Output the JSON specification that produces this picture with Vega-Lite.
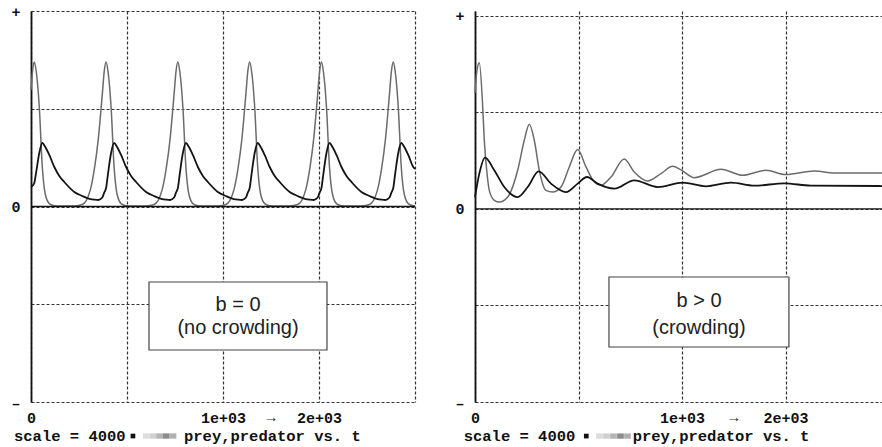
{
  "$schema": "https://vega.github.io/schema/vega-lite/v6.json",
  "padding": {"left": 10, "top": 4, "right": 0, "bottom": 0},
  "background": "white",
  "spacing": 35,
  "datasets": {
    "L": [
      {"t": 0, "prey": 2380, "pred": 400},
      {"t": 9, "prey": 2800, "pred": 430},
      {"t": 17.2, "prey": 2957, "pred": 480},
      {"t": 27.6, "prey": 2752, "pred": 720},
      {"t": 43.2, "prey": 2036, "pred": 1095},
      {"t": 58.9, "prey": 808, "pred": 1299},
      {"t": 74.5, "prey": 250, "pred": 1217},
      {"t": 95.3, "prey": 60, "pred": 1054},
      {"t": 121.4, "prey": 15, "pred": 808},
      {"t": 147.4, "prey": 8, "pred": 624},
      {"t": 173.4, "prey": 8, "pred": 501},
      {"t": 225.5, "prey": 12, "pred": 297},
      {"t": 267.2, "prey": 40, "pred": 215},
      {"t": 308.9, "prey": 340, "pred": 153},
      {"t": 329.7, "prey": 760, "pred": 140},
      {"t": 350.5, "prey": 1380, "pred": 133},
      {"t": 371.4, "prey": 2300, "pred": 184},
      {"t": 381.8, "prey": 2780, "pred": 290},
      {"t": 391.1, "prey": 2957, "pred": 378},
      {"t": 401.5, "prey": 2752, "pred": 685},
      {"t": 417.1, "prey": 2036, "pred": 1095},
      {"t": 432.8, "prey": 808, "pred": 1299},
      {"t": 448.4, "prey": 250, "pred": 1217},
      {"t": 469.2, "prey": 60, "pred": 1054},
      {"t": 495.3, "prey": 15, "pred": 808},
      {"t": 521.3, "prey": 8, "pred": 624},
      {"t": 547.3, "prey": 8, "pred": 501},
      {"t": 599.4, "prey": 12, "pred": 297},
      {"t": 641.1, "prey": 40, "pred": 215},
      {"t": 682.8, "prey": 340, "pred": 153},
      {"t": 703.6, "prey": 760, "pred": 140},
      {"t": 724.4, "prey": 1380, "pred": 133},
      {"t": 745.3, "prey": 2300, "pred": 184},
      {"t": 755.7, "prey": 2780, "pred": 290},
      {"t": 765.0, "prey": 2957, "pred": 378},
      {"t": 775.4, "prey": 2752, "pred": 685},
      {"t": 791.0, "prey": 2036, "pred": 1095},
      {"t": 806.7, "prey": 808, "pred": 1299},
      {"t": 822.3, "prey": 250, "pred": 1217},
      {"t": 843.1, "prey": 60, "pred": 1054},
      {"t": 869.2, "prey": 15, "pred": 808},
      {"t": 895.2, "prey": 8, "pred": 624},
      {"t": 921.2, "prey": 8, "pred": 501},
      {"t": 973.3, "prey": 12, "pred": 297},
      {"t": 1015.0, "prey": 40, "pred": 215},
      {"t": 1056.7, "prey": 340, "pred": 153},
      {"t": 1077.5, "prey": 760, "pred": 140},
      {"t": 1098.3, "prey": 1380, "pred": 133},
      {"t": 1119.2, "prey": 2300, "pred": 184},
      {"t": 1129.6, "prey": 2780, "pred": 290},
      {"t": 1139.0, "prey": 2957, "pred": 378},
      {"t": 1149.4, "prey": 2752, "pred": 685},
      {"t": 1165.0, "prey": 2036, "pred": 1095},
      {"t": 1180.7, "prey": 808, "pred": 1299},
      {"t": 1196.3, "prey": 250, "pred": 1217},
      {"t": 1217.1, "prey": 60, "pred": 1054},
      {"t": 1243.2, "prey": 15, "pred": 808},
      {"t": 1269.2, "prey": 8, "pred": 624},
      {"t": 1295.2, "prey": 8, "pred": 501},
      {"t": 1347.3, "prey": 12, "pred": 297},
      {"t": 1389.0, "prey": 40, "pred": 215},
      {"t": 1430.7, "prey": 340, "pred": 153},
      {"t": 1451.5, "prey": 760, "pred": 140},
      {"t": 1472.3, "prey": 1380, "pred": 133},
      {"t": 1493.2, "prey": 2300, "pred": 184},
      {"t": 1503.6, "prey": 2780, "pred": 290},
      {"t": 1512.9, "prey": 2957, "pred": 378},
      {"t": 1523.3, "prey": 2752, "pred": 685},
      {"t": 1538.9, "prey": 2036, "pred": 1095},
      {"t": 1554.6, "prey": 808, "pred": 1299},
      {"t": 1570.2, "prey": 250, "pred": 1217},
      {"t": 1591.0, "prey": 60, "pred": 1054},
      {"t": 1617.1, "prey": 15, "pred": 808},
      {"t": 1643.1, "prey": 8, "pred": 624},
      {"t": 1669.1, "prey": 8, "pred": 501},
      {"t": 1721.2, "prey": 12, "pred": 297},
      {"t": 1762.9, "prey": 40, "pred": 215},
      {"t": 1804.6, "prey": 340, "pred": 153},
      {"t": 1825.4, "prey": 760, "pred": 140},
      {"t": 1846.2, "prey": 1380, "pred": 133},
      {"t": 1867.1, "prey": 2300, "pred": 184},
      {"t": 1877.5, "prey": 2780, "pred": 290},
      {"t": 1886.8, "prey": 2957, "pred": 378},
      {"t": 1897.2, "prey": 2752, "pred": 685},
      {"t": 1912.8, "prey": 2036, "pred": 1095},
      {"t": 1928.5, "prey": 808, "pred": 1299},
      {"t": 1944.1, "prey": 250, "pred": 1217},
      {"t": 1964.9, "prey": 60, "pred": 1054},
      {"t": 1991.0, "prey": 15, "pred": 808},
      {"t": 2000, "prey": 12, "pred": 770}
    ],
    "RPrey": [
      {"t": 0, "v": 2400}, {"t": 9.7, "v": 2880}, {"t": 20.8, "v": 3030}, {"t": 37.2, "v": 2115},
      {"t": 44.9, "v": 1423}, {"t": 58, "v": 738}, {"t": 69.1, "v": 384}, {"t": 93.2, "v": 177},
      {"t": 117.4, "v": 141}, {"t": 157.9, "v": 245}, {"t": 206.2, "v": 800}, {"t": 238.1, "v": 1423},
      {"t": 262.3, "v": 1756}, {"t": 286.4, "v": 1423}, {"t": 310.6, "v": 800}, {"t": 342.9, "v": 384},
      {"t": 375.3, "v": 349}, {"t": 415.4, "v": 453}, {"t": 455.5, "v": 869}, {"t": 496.0, "v": 1230},
      {"t": 536.1, "v": 869}, {"t": 576.2, "v": 557}, {"t": 608.6, "v": 488}, {"t": 656.9, "v": 661},
      {"t": 721.1, "v": 1035}, {"t": 769.4, "v": 765}, {"t": 834.1, "v": 578}, {"t": 898.4, "v": 731},
      {"t": 954.9, "v": 883}, {"t": 995.0, "v": 810}, {"t": 1059.3, "v": 648}, {"t": 1188.2, "v": 821},
      {"t": 1293.0, "v": 696}, {"t": 1405.5, "v": 800}, {"t": 1502.1, "v": 711}, {"t": 1638.8, "v": 785},
      {"t": 1735.4, "v": 744}, {"t": 1971, "v": 744}
    ],
    "RPred": [
      {"t": 0, "v": 245}, {"t": 20.8, "v": 731}, {"t": 48.3, "v": 1064}, {"t": 93.2, "v": 800},
      {"t": 141.5, "v": 453}, {"t": 206.2, "v": 245}, {"t": 254.6, "v": 453}, {"t": 307.7, "v": 779},
      {"t": 367.1, "v": 524}, {"t": 439.5, "v": 349}, {"t": 496.0, "v": 524}, {"t": 541.0, "v": 661},
      {"t": 592.6, "v": 524}, {"t": 672.8, "v": 420}, {"t": 769.4, "v": 592}, {"t": 882.5, "v": 453},
      {"t": 1003.2, "v": 544}, {"t": 1115.7, "v": 468}, {"t": 1236.5, "v": 544}, {"t": 1349.0, "v": 482},
      {"t": 1493.9, "v": 530}, {"t": 1622.9, "v": 482}, {"t": 1971, "v": 474}
    ],
    "LSq": [
      {"t": 600.5, "shade": "a"}, {"t": 635.4, "shade": "b"}, {"t": 669.7, "shade": "c"},
      {"t": 704.6, "shade": "d"}, {"t": 739.5, "shade": "e"}
    ],
    "RSq": [
      {"t": 601.3, "shade": "a"}, {"t": 635.1, "shade": "b"}, {"t": 669.0, "shade": "c"},
      {"t": 702.8, "shade": "d"}, {"t": 736.6, "shade": "e"}
    ],
    "one": [{}]
  },
  "hconcat": [
    {
      "width": 384,
      "height": 391,
      "layer": [
        {
          "data": {"name": "L"},
          "mark": {"type": "line", "interpolate": "monotone", "color": "#6b6b6b", "strokeWidth": 1.5},
          "encoding": {
            "x": {"field": "t", "type": "quantitative", "scale": {"domain": [0, 2000], "nice": false, "zero": false},
              "axis": {"values": [0, 500, 1000, 1500, 2000], "title": null,
                "labelExpr": "datum.value==0?'0':datum.value==1000?'1e+03':datum.value==1500?'2e+03':''"}},
            "y": {"field": "prey", "type": "quantitative", "scale": {"domain": [-4000, 4000], "nice": false, "zero": false},
              "axis": {"values": [-4000, -2000, 0, 2000, 4000], "title": null,
                "labelExpr": "datum.value==4000?'+':datum.value==0?'0':datum.value==-4000?'–':''"}}
          }
        },
        {
          "data": {"name": "L"},
          "mark": {"type": "line", "interpolate": "monotone", "color": "#141414", "strokeWidth": 1.8},
          "encoding": {
            "x": {"field": "t", "type": "quantitative", "title": null},
            "y": {"field": "pred", "type": "quantitative", "title": null}
          }
        },
        {
          "data": {"name": "one"},
          "mark": {"type": "rule", "color": "#111", "strokeWidth": 1.3},
          "encoding": {"y": {"datum": 0, "type": "quantitative", "title": null}}
        },
        {
          "data": {"name": "one"},
          "mark": {"type": "rect", "fill": "white", "stroke": "#444", "strokeWidth": 1.2},
          "encoding": {
            "x": {"datum": 614.5, "type": "quantitative", "title": null}, "x2": {"datum": 1541.6},
            "y": {"datum": -1545, "type": "quantitative", "title": null}, "y2": {"datum": -2936}
          }
        },
        {
          "data": {"name": "one"},
          "mark": {"type": "text", "font": "Liberation Sans", "fontSize": 20, "color": "#222", "align": "center", "baseline": "alphabetic"},
          "encoding": {
            "x": {"datum": 1078, "type": "quantitative", "title": null},
            "y": {"datum": -2132, "type": "quantitative", "title": null},
            "text": {"value": "b = 0"}
          }
        },
        {
          "data": {"name": "one"},
          "mark": {"type": "text", "font": "Liberation Sans", "fontSize": 20, "color": "#222", "align": "center", "baseline": "alphabetic"},
          "encoding": {
            "x": {"datum": 1078, "type": "quantitative", "title": null},
            "y": {"datum": -2609, "type": "quantitative", "title": null},
            "text": {"value": "(no crowding)"}
          }
        },
        {
          "data": {"name": "one"},
          "mark": {"type": "text", "font": "Liberation Mono", "fontSize": 15, "color": "#333", "align": "center", "baseline": "top", "dy": 8},
          "encoding": {
            "x": {"datum": 1250, "type": "quantitative", "title": null},
            "y": {"datum": -4000, "type": "quantitative", "title": null},
            "text": {"value": "→"}
          }
        },
        {
          "data": {"name": "one"},
          "mark": {"type": "text", "font": "Liberation Mono", "fontWeight": "bold", "fontSize": 15.5, "color": "#111", "align": "left", "baseline": "alphabetic"},
          "encoding": {
            "x": {"datum": -88.5, "type": "quantitative", "title": null},
            "y": {"datum": -4792, "type": "quantitative", "title": null},
            "text": {"value": "scale = 4000"}
          }
        },
        {
          "data": {"name": "one"},
          "mark": {"type": "text", "font": "Liberation Mono", "fontWeight": "bold", "fontSize": 15.5, "color": "#111", "align": "left", "baseline": "alphabetic"},
          "encoding": {
            "x": {"datum": 796.8, "type": "quantitative", "title": null},
            "y": {"datum": -4792, "type": "quantitative", "title": null},
            "text": {"value": "prey,predator vs. t"}
          }
        },
        {
          "data": {"name": "one"},
          "mark": {"type": "point", "shape": "square", "filled": true, "size": 22, "color": "#111", "opacity": 1},
          "encoding": {
            "x": {"datum": 531, "type": "quantitative", "title": null},
            "y": {"datum": -4696, "type": "quantitative", "title": null}
          }
        },
        {
          "data": {"name": "LSq"},
          "mark": {"type": "point", "shape": "M-1,-0.79H1V0.79H-1Z", "filled": true, "size": 45, "opacity": 1},
          "encoding": {
            "x": {"field": "t", "type": "quantitative", "title": null},
            "y": {"datum": -4696, "type": "quantitative", "title": null},
            "color": {"field": "shade", "type": "nominal", "legend": null,
              "scale": {"domain": ["a", "b", "c", "d", "e"], "range": ["#dcdcdc", "#d0d0d0", "#b5b5b5", "#8c8c8c", "#b0b0b0"]}}
          }
        }
      ]
    },
    {
      "width": 408,
      "height": 391,
      "layer": [
        {
          "data": {"name": "RPrey"},
          "mark": {"type": "line", "interpolate": "monotone", "color": "#6b6b6b", "strokeWidth": 1.5},
          "encoding": {
            "x": {"field": "t", "type": "quantitative", "scale": {"domain": [0, 1971], "nice": false, "zero": false},
              "axis": {"values": [0, 500, 1000, 1500], "title": null,
                "labelExpr": "datum.value==0?'0':datum.value==1000?'1e+03':datum.value==1500?'2e+03':''"}},
            "y": {"field": "v", "type": "quantitative", "scale": {"domain": [-4000, 4100], "nice": false, "zero": false},
              "axis": {"values": [-4000, -2000, 0, 2000, 4000], "title": null,
                "labelExpr": "datum.value==4000?'+':datum.value==0?'0':datum.value==-4000?'–':''"}}
          }
        },
        {
          "data": {"name": "RPred"},
          "mark": {"type": "line", "interpolate": "monotone", "color": "#141414", "strokeWidth": 1.8},
          "encoding": {
            "x": {"field": "t", "type": "quantitative", "title": null},
            "y": {"field": "v", "type": "quantitative", "title": null}
          }
        },
        {
          "data": {"name": "one"},
          "mark": {"type": "rule", "color": "#111", "strokeWidth": 1.3},
          "encoding": {"y": {"datum": 0, "type": "quantitative", "title": null}}
        },
        {
          "data": {"name": "one"},
          "mark": {"type": "rect", "fill": "white", "stroke": "#444", "strokeWidth": 1.2},
          "encoding": {
            "x": {"datum": 647.2, "type": "quantitative", "title": null}, "x2": {"datum": 1516.6},
            "y": {"datum": -1411, "type": "quantitative", "title": null}, "y2": {"datum": -2861}
          }
        },
        {
          "data": {"name": "one"},
          "mark": {"type": "text", "font": "Liberation Sans", "fontSize": 20, "color": "#222", "align": "center", "baseline": "alphabetic"},
          "encoding": {
            "x": {"datum": 1082, "type": "quantitative", "title": null},
            "y": {"datum": -2033, "type": "quantitative", "title": null},
            "text": {"value": "b > 0"}
          }
        },
        {
          "data": {"name": "one"},
          "mark": {"type": "text", "font": "Liberation Sans", "fontSize": 20, "color": "#222", "align": "center", "baseline": "alphabetic"},
          "encoding": {
            "x": {"datum": 1082, "type": "quantitative", "title": null},
            "y": {"datum": -2592, "type": "quantitative", "title": null},
            "text": {"value": "(crowding)"}
          }
        },
        {
          "data": {"name": "one"},
          "mark": {"type": "text", "font": "Liberation Mono", "fontSize": 15, "color": "#333", "align": "center", "baseline": "top", "dy": 8},
          "encoding": {
            "x": {"datum": 1250, "type": "quantitative", "title": null},
            "y": {"datum": -4000, "type": "quantitative", "title": null},
            "text": {"value": "→"}
          }
        },
        {
          "data": {"name": "one"},
          "mark": {"type": "text", "font": "Liberation Mono", "fontWeight": "bold", "fontSize": 15.5, "color": "#111", "align": "left", "baseline": "alphabetic"},
          "encoding": {
            "x": {"datum": -54.6, "type": "quantitative", "title": null},
            "y": {"datum": -4803, "type": "quantitative", "title": null},
            "text": {"value": "scale = 4000"}
          }
        },
        {
          "data": {"name": "one"},
          "mark": {"type": "text", "font": "Liberation Mono", "fontWeight": "bold", "fontSize": 15.5, "color": "#111", "align": "left", "baseline": "alphabetic"},
          "encoding": {
            "x": {"datum": 761.7, "type": "quantitative", "title": null},
            "y": {"datum": -4803, "type": "quantitative", "title": null},
            "text": {"value": "prey,predator vs. t"}
          }
        },
        {
          "data": {"name": "one"},
          "mark": {"type": "point", "shape": "square", "filled": true, "size": 22, "color": "#111", "opacity": 1},
          "encoding": {
            "x": {"datum": 537.6, "type": "quantitative", "title": null},
            "y": {"datum": -4706, "type": "quantitative", "title": null}
          }
        },
        {
          "data": {"name": "RSq"},
          "mark": {"type": "point", "shape": "M-1,-0.79H1V0.79H-1Z", "filled": true, "size": 45, "opacity": 1},
          "encoding": {
            "x": {"field": "t", "type": "quantitative", "title": null},
            "y": {"datum": -4706, "type": "quantitative", "title": null},
            "color": {"field": "shade", "type": "nominal", "legend": null,
              "scale": {"domain": ["a", "b", "c", "d", "e"], "range": ["#dcdcdc", "#d0d0d0", "#b5b5b5", "#8c8c8c", "#b0b0b0"]}}
          }
        }
      ]
    }
  ],
  "config": {
    "view": {"stroke": null},
    "axis": {
      "grid": true, "gridDash": [3, 2], "gridColor": "#333", "gridWidth": 1.2, "gridOpacity": 1,
      "ticks": false, "labelFont": "Liberation Mono", "labelFontWeight": "bold", "labelFontSize": 15,
      "labelColor": "#111", "labelFlush": false, "labelOverlap": false
    },
    "axisX": {"domain": false, "labelPadding": 8},
    "axisY": {"domain": true, "domainColor": "#111", "domainWidth": 1.8, "labelPadding": 11}
  }
}
